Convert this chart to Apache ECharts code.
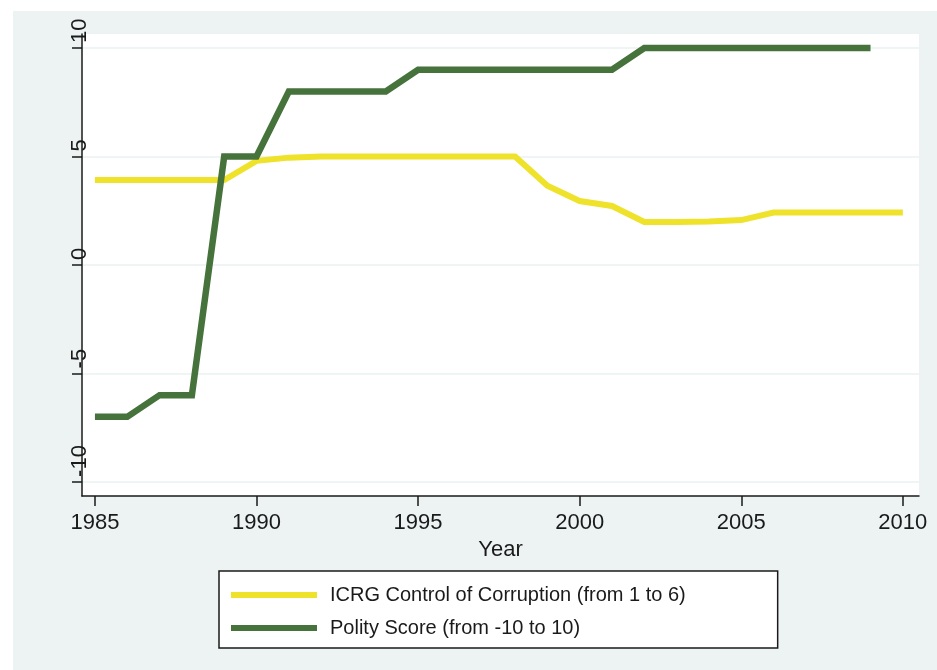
<!DOCTYPE html>
<html>
<head>
<meta charset="utf-8">
<script src="https://cdn.jsdelivr.net/npm/echarts@6/dist/echarts.min.js"></script>
<style>
  html, body { margin: 0; padding: 0; background: #ffffff; }
  #frame { position: absolute; left: 13px; top: 11px; width: 924px; height: 659px; background: #edf3f3; }
  #myChart { position: absolute; left: 0; top: 0; width: 937px; height: 670px; }
</style>
</head>
<body>
<div id="frame"></div>
<div id="myChart"></div>
<script>
// years on the x axis
var years = [1985, 1986, 1987, 1988, 1989, 1990, 1991, 1992, 1993, 1994, 1995, 1996, 1997,
             1998, 1999, 2000, 2001, 2002, 2003, 2004, 2005, 2006, 2007, 2008, 2009, 2010];
// ICRG control of corruption
var icrg = [3.92, 3.92, 3.92, 3.92, 3.92, 4.8, 4.95, 5, 5, 5, 5, 5, 5,
            5, 3.65, 2.95, 2.72, 1.98, 1.98, 2.0, 2.07, 2.42, 2.42, 2.42, 2.42, 2.42];
// Polity score (no value for 2010)
var polity = [-7, -7, -6, -6, 5, 5, 8, 8, 8, 8, 9, 9, 9,
              9, 9, 9, 9, 10, 10, 10, 10, 10, 10, 10, 10, null];
var xTicks = [1985, 1990, 1995, 2000, 2005, 2010];
var yTicks = [-10, -5, 0, 5, 10];
var legendNames = ['ICRG Control of Corruption (from 1 to 6)', 'Polity Score (from -10 to 10)'];

function pairs(vals) {
  var out = [];
  for (var i = 0; i < years.length; i++) {
    if (vals[i] !== null) out.push([years[i], vals[i]]);
  }
  return out;
}

var font = 'Liberation Sans, Arial, sans-serif';
var myChart = echarts.init(document.getElementById('myChart'));
myChart.setOption({
  animation: false,
  grid: {
    left: 82, top: 34, right: 18, bottom: 174,
    show: true, backgroundColor: '#ffffff', borderWidth: 0
  },
  xAxis: {
    type: 'value',
    min: 1984.6, max: 2010.5,
    name: 'Year',
    nameLocation: 'middle',
    nameGap: 43,
    nameTextStyle: { fontFamily: font, fontSize: 22, color: '#1a1a1a' },
    axisLine: { show: true, onZero: false, lineStyle: { color: '#1a1a1a', width: 1.5 } },
    axisTick: { show: true, length: 10, customValues: xTicks, lineStyle: { color: '#1a1a1a', width: 1.5 } },
    axisLabel: {
      customValues: xTicks, margin: 16, fontFamily: font, fontSize: 22, color: '#1a1a1a',
      formatter: function (v) { return String(v); }
    },
    splitLine: { show: false }
  },
  yAxis: {
    type: 'value',
    min: -10.65, max: 10.65,
    axisLine: { show: true, onZero: false, lineStyle: { color: '#1a1a1a', width: 1.5 } },
    axisTick: { show: true, length: 10, customValues: yTicks, lineStyle: { color: '#1a1a1a', width: 1.5 } },
    axisLabel: {
      customValues: yTicks, rotate: 90, align: 'left', verticalAlign: 'middle',
      margin: 2, padding: [0, 0, 0, 5],
      fontFamily: font, fontSize: 22, color: '#1a1a1a'
    },
    splitLine: { show: true, lineStyle: { color: '#eaf1f1', width: 1.5 } }
  },
  legend: {
    orient: 'vertical',
    left: 219, top: 571,
    padding: [13, 92, 9, 12],
    itemGap: 11,
    itemWidth: 86, itemHeight: 6,
    icon: 'rect',
    backgroundColor: '#ffffff',
    borderColor: '#1a1a1a', borderWidth: 1.5,
    textStyle: { fontFamily: font, fontSize: 20, color: '#1a1a1a', lineHeight: 22, padding: [0, 0, 0, 8] },
    data: legendNames
  },
  series: [
    {
      name: legendNames[0],
      type: 'line',
      showSymbol: false,
      color: '#efe22a',
      lineStyle: { color: '#efe22a', width: 6, join: 'miter' },
      data: pairs(icrg)
    },
    {
      name: legendNames[1],
      type: 'line',
      showSymbol: false,
      color: '#46733b',
      lineStyle: { color: '#46733b', width: 6.5, join: 'miter' },
      data: pairs(polity)
    }
  ]
});
</script>
</body>
</html>
